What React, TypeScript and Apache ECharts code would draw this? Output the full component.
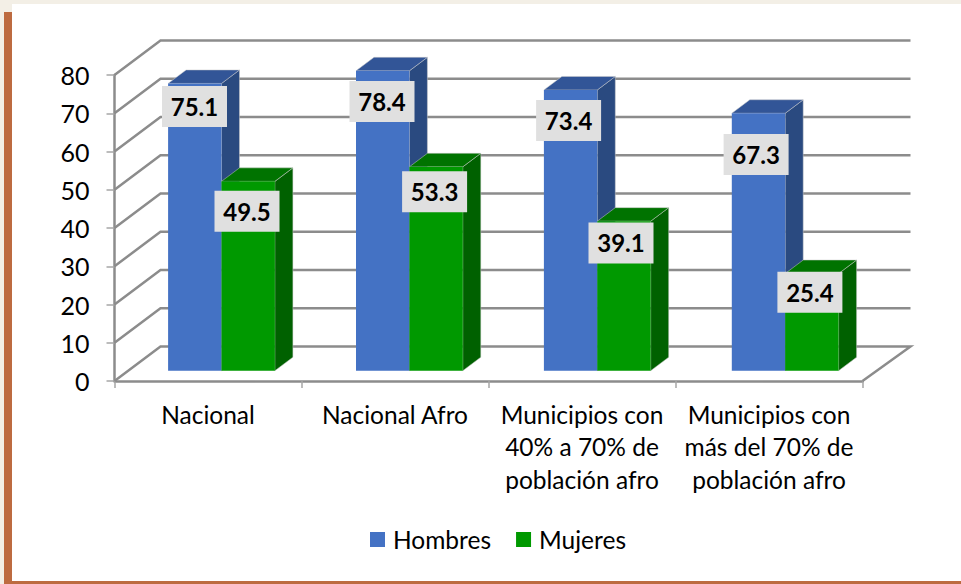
import React, { useEffect, useRef } from "react";
import * as echarts from "echarts";

const categories = ["Nacional", "Nacional Afro", "Municipios con\n40% a 70% de\npoblación afro", "Municipios con\nmás del 70% de\npoblación afro"];
const hombres = [75.1, 78.4, 73.4, 67.3];
const mujeres = [49.5, 53.3, 39.1, 25.4];
const wallTicks = [0, 10, 20, 30, 40, 50, 60, 70, 80];
// Manual label placement (px from the top centre of each bar's front face)
const hombresLabelDrop = [23, 30.6, 30.5, 41.2];
const mujeresLabelDrop = [29.8, 24.8, 21.8, 18.8];
const hombresLabelShift = [-0.3, -0.7, -2, -2.4];
const mujeresLabelShift = [-1.2, -1.5, -3, -2];

const FONT = "Lato";
const DEPTH_X0 = 46, DEPTH_X1 = 48, DEPTH_Y = -34.5;
const BAR_W = 53.4, BAR_DX = 18, BAR_DY = -13.5, BASE_X = 13.5, BASE_Y = -10.3, CAT_DRIFT = 0.9;
const GRAY = "#8c8c8c";

function barRenderer(side: number, front: string, top: string, right: string) {
  return (params: any, api: any) => {
    const i = api.value(0);
    const v = api.value(1);
    const t = api.coord([i, v]);
    const b = api.coord([i, 0]);
    const x0 = t[0] + BASE_X + i * CAT_DRIFT + (side === 0 ? -BAR_W : 0);
    const x1 = x0 + BAR_W;
    const yt = t[1] + BASE_Y;
    const yb = b[1] + BASE_Y;
    const children: any[] = [
      { type: "polygon", shape: { points: [[x1, yt], [x1 + BAR_DX, yt + BAR_DY], [x1 + BAR_DX, yb + BAR_DY], [x1, yb]] }, style: { fill: right, stroke: "#c9c9c9", lineWidth: 0.5 } },
      { type: "polygon", shape: { points: [[x0, yt], [x0 + BAR_DX, yt + BAR_DY], [x1 + BAR_DX, yt + BAR_DY], [x1, yt]] }, style: { fill: top, stroke: "#c9c9c9", lineWidth: 0.5 } },
      { type: "rect", shape: { x: x0, y: yt, width: BAR_W, height: yb - yt }, style: { fill: front } },
    ];
    return { type: "group", children };
  };
}

function labelRenderer(side: number, drops: number[], shifts: number[]) {
  return (params: any, api: any) => {
    const i = api.value(0);
    const v = api.value(1);
    const t = api.coord([i, v]);
    const x0 = t[0] + BASE_X + i * CAT_DRIFT + (side === 0 ? -BAR_W : 0);
    const cx = x0 + BAR_W / 2 + shifts[i];
    const cy = t[1] + BASE_Y + drops[i];
    return {
      type: "group",
      children: [
        { type: "rect", shape: { x: cx - 32.5, y: cy - 20.5, width: 65, height: 41 }, style: { fill: "#e0e0e0" } },
        { type: "text", style: { x: cx, y: cy, text: v.toFixed(1), fill: "#000", font: `bold 24px ${FONT}`, align: "center", verticalAlign: "middle" } },
      ],
    };
  };
}

function wallRenderer(params: any, api: any) {
  const v = api.value(0);
  const band = api.size([1, 0])[0];
  const first = api.coord([0, v]);
  const last = api.coord([categories.length - 1, v]);
  const f0: number[] = [first[0] - band / 2, first[1]];
  const f1: number[] = [last[0] + band / 2, last[1]];
  const back0: number[] = [f0[0] + DEPTH_X0, f0[1] + DEPTH_Y];
  const back1: number[] = [f1[0] + DEPTH_X1, f1[1] + DEPTH_Y];
  const pts = v === 0 ? [f0, back0, back1, f1] : [f0, back0, back1];
  return { type: "polyline", shape: { points: pts }, style: { fill: "none", stroke: GRAY, lineWidth: 2.5 } };
}

export default function App() {
  const ref = useRef<HTMLDivElement>(null);
  useEffect(() => {
    const chart = echarts.init(ref.current!, undefined, { renderer: "svg" });
    chart.setOption({
      animation: false,
      backgroundColor: "#ffffff",
      grid: { left: 114.5, right: 961 - 862.5, top: 75, bottom: 584 - 381, containLabel: false },
      xAxis: {
        type: "category",
        data: categories,
        axisLine: { lineStyle: { color: GRAY, width: 2.5 } },
        axisTick: { show: true, length: 7, lineStyle: { color: "#a6a6a6", width: 1.5 } },
        axisLabel: { color: "#000", fontFamily: FONT, fontSize: 24.5, lineHeight: 32.5, margin: 17, interval: 0 },
        splitLine: { show: false },
      },
      yAxis: {
        type: "value",
        min: 0,
        max: 80,
        interval: 10,
        axisLine: { show: true, lineStyle: { color: GRAY, width: 2.5 } },
        axisTick: { show: true, length: 8, lineStyle: { color: "#a6a6a6", width: 1.5 } },
        axisLabel: { color: "#000", fontFamily: FONT, fontSize: 25, margin: 25 },
        splitLine: { show: false },
      },
      legend: {
        left: 370,
        top: 527,
        padding: 0,
        itemWidth: 15,
        itemHeight: 15,
        itemGap: 25,
        icon: "rect",
        textStyle: { color: "#000", fontFamily: FONT, fontSize: 24.5, lineHeight: 15, padding: [0, 0, 0, 3] },
        data: ["Hombres", "Mujeres"],
      },
      graphic: [
        { type: "rect", silent: true, z: 100, shape: { x: 0, y: 0, width: 961, height: 4 }, style: { fill: "#f3efe6" } },
        { type: "rect", silent: true, z: 100, shape: { x: 0, y: 0, width: 12, height: 12 }, style: { fill: "#f3efe6" } },
        { type: "rect", silent: true, z: 100, shape: { x: 0, y: 0, width: 4, height: 584 }, style: { fill: "#f3efe6" } },
        { type: "rect", silent: true, z: 100, shape: { x: 4, y: 12, width: 8, height: 572 }, style: { fill: "#bd6b40" } },
        { type: "rect", silent: true, z: 100, shape: { x: 4, y: 581, width: 957, height: 3 }, style: { fill: "#bd6b40" } },
      ],
      series: [
        { type: "custom", name: "wall", silent: true, z: 1, coordinateSystem: "cartesian2d", encode: { y: 0 }, renderItem: wallRenderer, data: wallTicks.map((v) => [v]), clip: false },
        { type: "custom", name: "Hombres", z: 3, itemStyle: { color: "#4472c4" }, clip: false, encode: { x: 0, y: 1 }, renderItem: barRenderer(0, "#4472c4", "#325597", "#2a4a80"), data: hombres.map((v, i) => [i, v]) },
        { type: "custom", name: "Mujeres", z: 4, itemStyle: { color: "#009900" }, clip: false, encode: { x: 0, y: 1 }, renderItem: barRenderer(1, "#009900", "#007300", "#006100"), data: mujeres.map((v, i) => [i, v]) },
        { type: "custom", name: "lblH", z: 5, clip: false, encode: { x: 0, y: 1 }, renderItem: labelRenderer(0, hombresLabelDrop, hombresLabelShift), data: hombres.map((v, i) => [i, v]) },
        { type: "custom", name: "lblM", z: 6, clip: false, encode: { x: 0, y: 1 }, renderItem: labelRenderer(1, mujeresLabelDrop, mujeresLabelShift), data: mujeres.map((v, i) => [i, v]) },
      ],
    });
    return () => chart.dispose();
  }, []);
  return <div ref={ref} style={{ width: 961, height: 584, position: "fixed", left: 0, top: 0 }} />;
}
